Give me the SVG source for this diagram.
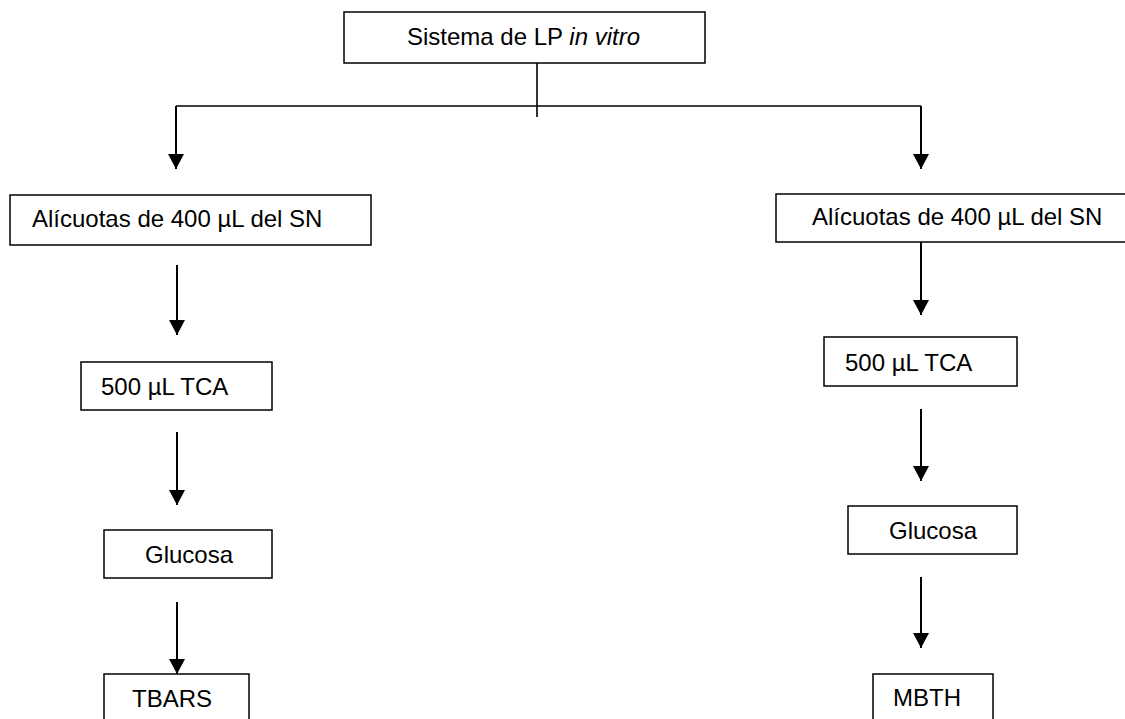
<svg xmlns="http://www.w3.org/2000/svg" width="1125" height="719" viewBox="0 0 1125 719">
<style>
.box{fill:#fff;stroke:#000;stroke-width:1.5}
.t{font-family:"Liberation Sans",Arial,sans-serif;font-size:24px;fill:#000}
.ln{stroke:#000;stroke-width:1.6;fill:none}
.ar{stroke:#000;stroke-width:2;fill:none;marker-end:url(#ah)}
</style>
<defs>
<marker id="ah" markerWidth="16" markerHeight="16" refX="15" refY="8" orient="auto" markerUnits="userSpaceOnUse">
<path d="M0,0 L15,8 L0,16 Z" fill="#000"/>
</marker>
</defs>
<g id="connectors">
<path class="ln" d="M537,60 V117"/>
<path class="ln" d="M176,106 H921"/>
<path class="ar" d="M176,106 V169"/>
<path class="ar" d="M921,106 V169"/>
<path class="ar" d="M177,265 V335"/>
<path class="ar" d="M177,432 V505"/>
<path class="ar" d="M177,602 V674"/>
<path class="ar" d="M921,242 V315"/>
<path class="ar" d="M921,409 V481"/>
<path class="ar" d="M921,577 V648"/>
</g>
<g id="root">
<rect class="box" x="344" y="12" width="361" height="51"/>
<text class="t" x="407" y="45">Sistema de LP <tspan font-style="italic">in vitro</tspan></text>
</g>
<g id="left-aliq">
<rect class="box" x="10" y="195" width="361" height="50"/>
<text class="t" x="32" y="227">Alícuotas de 400 µL del SN</text>
</g>
<g id="left-tca">
<rect class="box" x="81" y="362" width="191" height="48"/>
<text class="t" x="101" y="395">500 µL TCA</text>
</g>
<g id="left-glucosa">
<rect class="box" x="104" y="530" width="168" height="48"/>
<text class="t" x="145" y="563">Glucosa</text>
</g>
<g id="left-tbars">
<rect class="box" x="104" y="674" width="145" height="60"/>
<text class="t" x="132" y="707">TBARS</text>
</g>
<g id="right-aliq">
<rect class="box" x="776" y="194" width="360" height="48"/>
<text class="t" x="812" y="225">Alícuotas de 400 µL del SN</text>
</g>
<g id="right-tca">
<rect class="box" x="824" y="337" width="193" height="49"/>
<text class="t" x="845" y="371">500 µL TCA</text>
</g>
<g id="right-glucosa">
<rect class="box" x="848" y="506" width="169" height="48"/>
<text class="t" x="889" y="539">Glucosa</text>
</g>
<g id="right-mbth">
<rect class="box" x="873" y="674" width="120" height="60"/>
<text class="t" x="893" y="706">MBTH</text>
</g>
</svg>
